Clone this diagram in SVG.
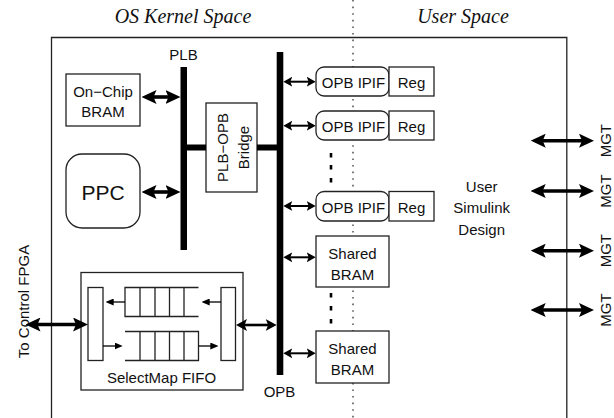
<svg xmlns="http://www.w3.org/2000/svg" width="614" height="418" viewBox="0 0 614 418">
<style>
.t{font-family:"Liberation Sans",Arial,sans-serif;font-size:15px;fill:#111;text-anchor:middle}
.ti{font-family:"Liberation Serif","Times New Roman",serif;font-style:italic;font-size:20px;fill:#111;text-anchor:middle}
.box{fill:#fff;stroke:#222;stroke-width:1.3}
.thin{fill:none;stroke:#222;stroke-width:1.3}
.bus{fill:#000}
.cb{stroke:#000;stroke-width:3.6;fill:none;marker-start:url(#hb);marker-end:url(#hb)}
.cm{stroke:#000;stroke-width:2.6;fill:none;marker-start:url(#hm);marker-end:url(#hm)}
.cs{stroke:#000;stroke-width:2;fill:none;marker-start:url(#hs);marker-end:url(#hs)}
.ct{stroke:#000;stroke-width:1.3;fill:none;marker-end:url(#ht)}
.dots{stroke:#000;stroke-width:2.6}
</style>
<defs>
<marker id="hb" viewBox="0 0 15 14" markerWidth="15" markerHeight="14" refX="8" refY="7" orient="auto-start-reverse" markerUnits="userSpaceOnUse"><path d="M0,0 L15,7 L0,14 L3,7 z" fill="#000"/></marker>
<marker id="hm" viewBox="0 0 11 12" markerWidth="11" markerHeight="12" refX="5" refY="6" orient="auto-start-reverse" markerUnits="userSpaceOnUse"><path d="M0,0 L11,6 L0,12 L2.5,6 z" fill="#000"/></marker>
<marker id="hs" viewBox="0 0 9 10" markerWidth="9" markerHeight="10" refX="4" refY="5" orient="auto-start-reverse" markerUnits="userSpaceOnUse"><path d="M0,0 L9,5 L0,10 L2,5 z" fill="#000"/></marker>
<marker id="ht" viewBox="0 0 8 7" markerWidth="8" markerHeight="7" refX="4" refY="3.5" orient="auto" markerUnits="userSpaceOnUse"><path d="M0,0 L8,3.5 L0,7 z" fill="#000"/></marker>
</defs>
<rect width="614" height="418" fill="#fff"/>

<g id="titles">
<text class="ti" x="183" y="22.7">OS Kernel Space</text>
<text class="ti" x="463" y="22.7">User Space</text>
</g>

<g id="frame">
<path d="M51.5,420 V37.5 H566.8 V420" class="thin"/>
<line x1="353" y1="0" x2="353" y2="418" stroke="#222" stroke-width="1.2" stroke-dasharray="1.6 5"/>
</g>

<g id="plb">
<rect class="bus" x="180.5" y="67" width="6.5" height="183"/>
<text class="t" x="183.5" y="59.5">PLB</text>
</g>

<g id="opb">
<rect class="bus" x="276.7" y="52" width="6.6" height="323"/>
<text class="t" x="279.5" y="396.7">OPB</text>
</g>

<g id="onchip-bram">
<rect class="box" x="66" y="74" width="74" height="52"/>
<text class="t" x="103" y="96.7">On−Chip</text>
<text class="t" x="103" y="117">BRAM</text>
</g>

<g id="ppc">
<rect class="box" x="66" y="154" width="74" height="74" rx="16"/>
<text class="t" x="103" y="199.5" style="font-size:21px">PPC</text>
</g>

<g id="bridge">
<rect class="box" x="206" y="103" width="51" height="89"/>
<text class="t" transform="translate(228,147.5) rotate(-90)">PLB−OPB</text>
<text class="t" transform="translate(249,147.5) rotate(-90)">Bridge</text>
</g>

<g id="ipif1">
<rect class="box" x="316" y="67" width="73" height="29" rx="8"/>
<text class="t" x="353.5" y="88.3">OPB IPIF</text>
<rect class="box" x="389" y="67" width="45" height="29"/>
<text class="t" x="411.5" y="88.3">Reg</text>
</g>
<g id="ipif2">
<rect class="box" x="316" y="111" width="73" height="29" rx="8"/>
<text class="t" x="353.5" y="132.3">OPB IPIF</text>
<rect class="box" x="389" y="111" width="45" height="29"/>
<text class="t" x="411.5" y="132.3">Reg</text>
</g>
<g id="ipif3">
<rect class="box" x="316" y="191.5" width="73" height="29.5" rx="8"/>
<text class="t" x="353.5" y="213">OPB IPIF</text>
<rect class="box" x="389" y="191.5" width="45" height="29.5"/>
<text class="t" x="411.5" y="213">Reg</text>
</g>

<g id="shared-bram1">
<rect class="box" x="316" y="236" width="73" height="51"/>
<text class="t" x="352.5" y="258.5">Shared</text>
<text class="t" x="352.5" y="279.5">BRAM</text>
</g>
<g id="shared-bram2">
<rect class="box" x="316" y="331" width="73" height="52"/>
<text class="t" x="352.5" y="354">Shared</text>
<text class="t" x="352.5" y="375">BRAM</text>
</g>

<g id="ellipsis">
<line class="dots" x1="331" y1="153" x2="331" y2="157.5"/>
<line class="dots" x1="331" y1="165" x2="331" y2="169.5"/>
<line class="dots" x1="331" y1="178" x2="331" y2="182.5"/>
<line class="dots" x1="331" y1="293" x2="331" y2="297.5"/>
<line class="dots" x1="331" y1="306" x2="331" y2="310.5"/>
<line class="dots" x1="331" y1="319" x2="331" y2="323.5"/>
</g>

<g id="user-design">
<text class="t" x="481.7" y="191.7">User</text>
<text class="t" x="481.7" y="213.3">Simulink</text>
<text class="t" x="481.7" y="234.8">Design</text>
</g>

<g id="selectmap-fifo">
<rect class="box" x="81" y="272.5" width="162" height="117.5"/>
<rect class="box" x="88" y="287.5" width="15" height="73"/>
<rect class="box" x="221" y="287.5" width="14.5" height="73"/>
<path class="thin" d="M198.5,287.5 H125 V316.5 H198.5 M140,287.5 V316.5 M155,287.5 V316.5 M169.5,287.5 V316.5 M184,287.5 V316.5"/>
<path class="thin" d="M125,331.5 H198.5 V360.5 H125 M140,331.5 V360.5 M155,331.5 V360.5 M169.5,331.5 V360.5 M184,331.5 V360.5"/>
<line class="ct" x1="125" y1="302" x2="109.7" y2="302"/>
<line class="ct" x1="221" y1="302" x2="205.7" y2="302"/>
<line class="ct" x1="103" y1="346" x2="118.7" y2="346"/>
<line class="ct" x1="198.5" y1="346" x2="214.3" y2="346"/>
<text class="t" x="161.5" y="382.5">SelectMap FIFO</text>
</g>

<g id="labels-external">
<text class="t" transform="translate(28.5,301.5) rotate(-90)">To Control FPGA</text>
<text class="t" transform="translate(611,140.7) rotate(-90)">MGT</text>
<text class="t" transform="translate(611,191) rotate(-90)">MGT</text>
<text class="t" transform="translate(611,250.7) rotate(-90)">MGT</text>
<text class="t" transform="translate(611,310) rotate(-90)">MGT</text>
</g>

<g id="connectors">
<rect class="bus" x="187" y="144.5" width="19" height="6"/>
<rect class="bus" x="257" y="144.5" width="20" height="6"/>
<line class="cb" x1="148.5" y1="97" x2="173.5" y2="97"/>
<line class="cb" x1="148.5" y1="192" x2="173.5" y2="192"/>
<line class="cs" x1="288.3" y1="81.7" x2="310.7" y2="81.7"/>
<line class="cs" x1="288.3" y1="125.7" x2="310.7" y2="125.7"/>
<line class="cs" x1="288.3" y1="206" x2="310.7" y2="206"/>
<line class="cs" x1="288.3" y1="257.3" x2="310.7" y2="257.3"/>
<line class="cs" x1="288.3" y1="353.3" x2="310.7" y2="353.3"/>
<line class="cb" x1="32.5" y1="324.5" x2="81" y2="324.5"/>
<line class="cm" x1="242" y1="325" x2="270.7" y2="325"/>
<line class="cb" x1="537.7" y1="140.7" x2="587" y2="140.7"/>
<line class="cb" x1="537.7" y1="191" x2="587" y2="191"/>
<line class="cb" x1="537.7" y1="250.7" x2="587" y2="250.7"/>
<line class="cb" x1="537.7" y1="310" x2="587" y2="310"/>
</g>
</svg>
